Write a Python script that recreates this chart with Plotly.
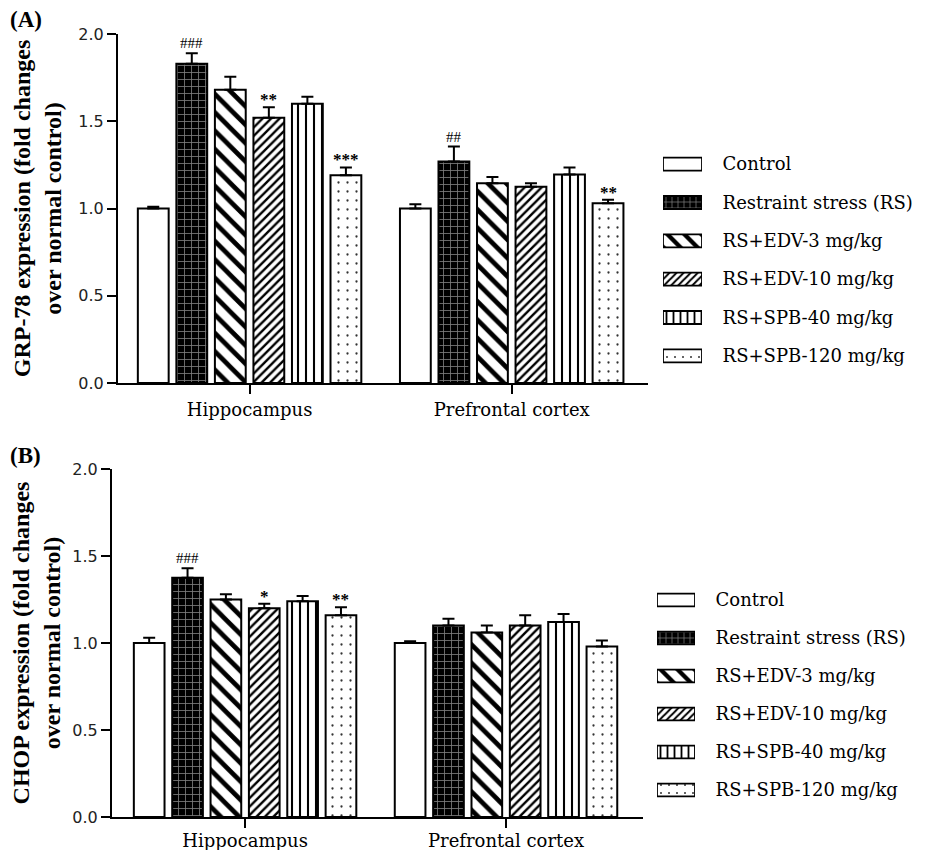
import plotly.graph_objects as go

# ---------------- data ----------------
groups = ["Control", "Restraint stress (RS)", "RS+EDV-3 mg/kg",
          "RS+EDV-10 mg/kg", "RS+SPB-40 mg/kg", "RS+SPB-120 mg/kg"]
regions = ["Hippocampus", "Prefrontal cortex"]

grp78_hip = [1.00, 1.83, 1.68, 1.52, 1.60, 1.19]
grp78_hip_err = [0.01, 0.06, 0.075, 0.06, 0.04, 0.045]
grp78_pfc = [1.00, 1.27, 1.145, 1.125, 1.195, 1.03]
grp78_pfc_err = [0.025, 0.085, 0.035, 0.02, 0.04, 0.02]
grp78_hip_sig = ["", "###", "", "**", "", "***"]
grp78_pfc_sig = ["", "##", "", "", "", "**"]

chop_hip = [1.00, 1.375, 1.25, 1.20, 1.24, 1.16]
chop_hip_err = [0.03, 0.055, 0.03, 0.025, 0.03, 0.045]
chop_pfc = [1.00, 1.10, 1.06, 1.10, 1.12, 0.98]
chop_pfc_err = [0.01, 0.04, 0.04, 0.06, 0.047, 0.035]
chop_hip_sig = ["", "###", "", "*", "", "**"]
chop_pfc_sig = ["", "", "", "", "", ""]

legend_key = [1, 1, 1, 1, 1, 1]
y_ticks = [0.0, 0.5, 1.0, 1.5, 2.0]

# ---------------- styles ----------------
patterns = [
    dict(shape="", bgcolor="white"),
    dict(shape="+", bgcolor="black", fgcolor="white", size=7, solidity=0.22),
    dict(shape="\\", bgcolor="white", fgcolor="black", fgopacity=1, size=13, solidity=0.36),
    dict(shape="/", bgcolor="white", fgcolor="black", fgopacity=1, size=6, solidity=0.4),
    dict(shape="|", bgcolor="white", fgcolor="black", fgopacity=1, size=8, solidity=0.26),
    dict(shape=".", bgcolor="white", fgcolor="#333", fgopacity=1, size=9, solidity=0.05),
]
fills = ["white", "black", "white", "white", "white", "white"]

SERIF = "DejaVu Serif"
BAR_GAP = 0.118
GROUP_GAP = 0.2
n = len(groups)
slot = (1 - BAR_GAP) / n

# page body has an 8px margin; figure sized to fit the window
OFF = 8
W, H = 933 - OFF, 850 - OFF


def px(x):
    return (x - OFF) / W


def py(y):
    return 1 - (y - OFF) / H


fig = go.Figure()


def add_panel(hip, hip_err, pfc, pfc_err, xa, ya):
    for i, g in enumerate(groups):
        fig.add_trace(go.Bar(
            x=[0, 1], y=[hip[i], pfc[i]], name=g,
            marker=dict(color=fills[i], pattern=patterns[i],
                        line=dict(color="black", width=2)),
            error_y=dict(type="data", array=[hip_err[i], pfc_err[i]],
                         arrayminus=[0, 0], symmetric=False,
                         color="black", thickness=2, width=6),
            xaxis=xa, yaxis=ya, showlegend=False))


def add_marks(hip, hip_err, pfc, pfc_err, hip_sig, pfc_sig, xref, yref):
    for ci, (vals, errs, sigs) in enumerate([(hip, hip_err, hip_sig),
                                             (pfc, pfc_err, pfc_sig)]):
        for i in range(n):
            if sigs[i]:
                star = "*" in sigs[i]
                fig.add_annotation(
                    x=ci + (i - (n - 1) / 2) * slot, y=vals[i] + errs[i],
                    xref=xref, yref=yref,
                    text=("<b>%s</b>" % sigs[i]) if star else sigs[i],
                    showarrow=False, yanchor="bottom",
                    yshift=-4 if star else 0,
                    font=dict(family="Liberation Serif",
                              size=17 if star else 15, color="black"))


add_panel(grp78_hip, grp78_hip_err, grp78_pfc, grp78_pfc_err, "x", "y")
add_panel(chop_hip, chop_hip_err, chop_pfc, chop_pfc_err, "x2", "y2")
add_marks(grp78_hip, grp78_hip_err, grp78_pfc, grp78_pfc_err,
          grp78_hip_sig, grp78_pfc_sig, "x", "y")
add_marks(chop_hip, chop_hip_err, chop_pfc, chop_pfc_err,
          chop_hip_sig, chop_pfc_sig, "x2", "y2")

# legend keys drawn as horizontal bars on their own axes
for xa, ya in [("x3", "y3"), ("x4", "y4")]:
    for i, g in enumerate(groups):
        pat = dict(patterns[i])
        if pat["shape"]:
            pat["size"] = max(5, pat["size"] - 1)
        fig.add_trace(go.Bar(
            x=[legend_key[i]], y=[g], orientation="h", width=0.34,
            marker=dict(color=fills[i], pattern=pat,
                        line=dict(color="black", width=1.8)),
            xaxis=xa, yaxis=ya, showlegend=False, hoverinfo="skip"))

axis_font = dict(family="DejaVu Sans", size=16, color="#222")
cat_font = dict(family=SERIF, size=18, color="black")
title_font = dict(family="Liberation Serif", size=24, color="black")


def xaxis_cfg(domain, rng, anchor, standoff):
    return dict(domain=domain, range=rng, anchor=anchor, automargin=False,
                tickvals=[0, 1], ticktext=regions, tickfont=cat_font,
                ticklabelstandoff=standoff,
                showline=True, linecolor="black", linewidth=2,
                ticks="outside", ticklen=9, tickwidth=1.5, tickcolor="black",
                showgrid=False, zeroline=False, fixedrange=True)


def yaxis_cfg(domain, anchor, title):
    return dict(domain=domain, range=[0, 2.0], anchor=anchor, automargin=False,
                tickvals=y_ticks, ticktext=[f"{v:.1f}" for v in y_ticks],
                tickfont=axis_font,
                showline=True, linecolor="black", linewidth=2,
                ticks="outside", ticklen=9, tickwidth=1.5, tickcolor="black",
                showgrid=False, zeroline=False,
                title=dict(text=title, font=title_font, standoff=10))


def legend_y(domain, anchor):
    return dict(domain=domain, anchor=anchor, side="right", automargin=False,
                categoryorder="array", categoryarray=groups[::-1],
                showline=False, showgrid=False, zeroline=False,
                ticks="outside", ticklen=16, tickcolor="rgba(0,0,0,0)",
                tickfont=dict(family=SERIF, size=18, color="black"))


fig.update_layout(
    width=W, height=H, margin=dict(l=0, r=0, t=0, b=0, pad=0),
    paper_bgcolor="white", plot_bgcolor="white",
    barmode="group", bargap=BAR_GAP, bargroupgap=GROUP_GAP,
    xaxis=xaxis_cfg([px(118), px(648)], [-0.502, 1.52], "y", 0),
    yaxis=yaxis_cfg([py(383), py(34)], "x",
                    "<b>GRP-78 expression (fold changes<br>over normal control)</b>"),
    xaxis2=xaxis_cfg([px(112), px(643)], [-0.51, 1.525], "y2", -3),
    yaxis2=yaxis_cfg([py(817), py(469)], "x2",
                     "<b>CHOP expression (fold changes<br>over normal control)</b>"),
    xaxis3=dict(domain=[px(663), px(702)], range=[0, 1], visible=False,
                anchor="y3", fixedrange=True, automargin=False),
    yaxis3=legend_y([py(375), py(145)], "x3"),
    xaxis4=dict(domain=[px(657), px(695)], range=[0, 1], visible=False,
                anchor="y4", fixedrange=True, automargin=False),
    yaxis4=legend_y([py(809), py(581)], "x4"),
)

fig.add_annotation(text="<b>(A)</b>", x=px(8), y=py(5), xref="paper", yref="paper",
                   xanchor="left", yanchor="top", showarrow=False,
                   font=dict(family="Liberation Serif", size=23, color="black"))
fig.add_annotation(text="<b>(B)</b>", x=px(8), y=py(441), xref="paper", yref="paper",
                   xanchor="left", yanchor="top", showarrow=False,
                   font=dict(family="Liberation Serif", size=23, color="black"))

fig.write_html("out.html")
